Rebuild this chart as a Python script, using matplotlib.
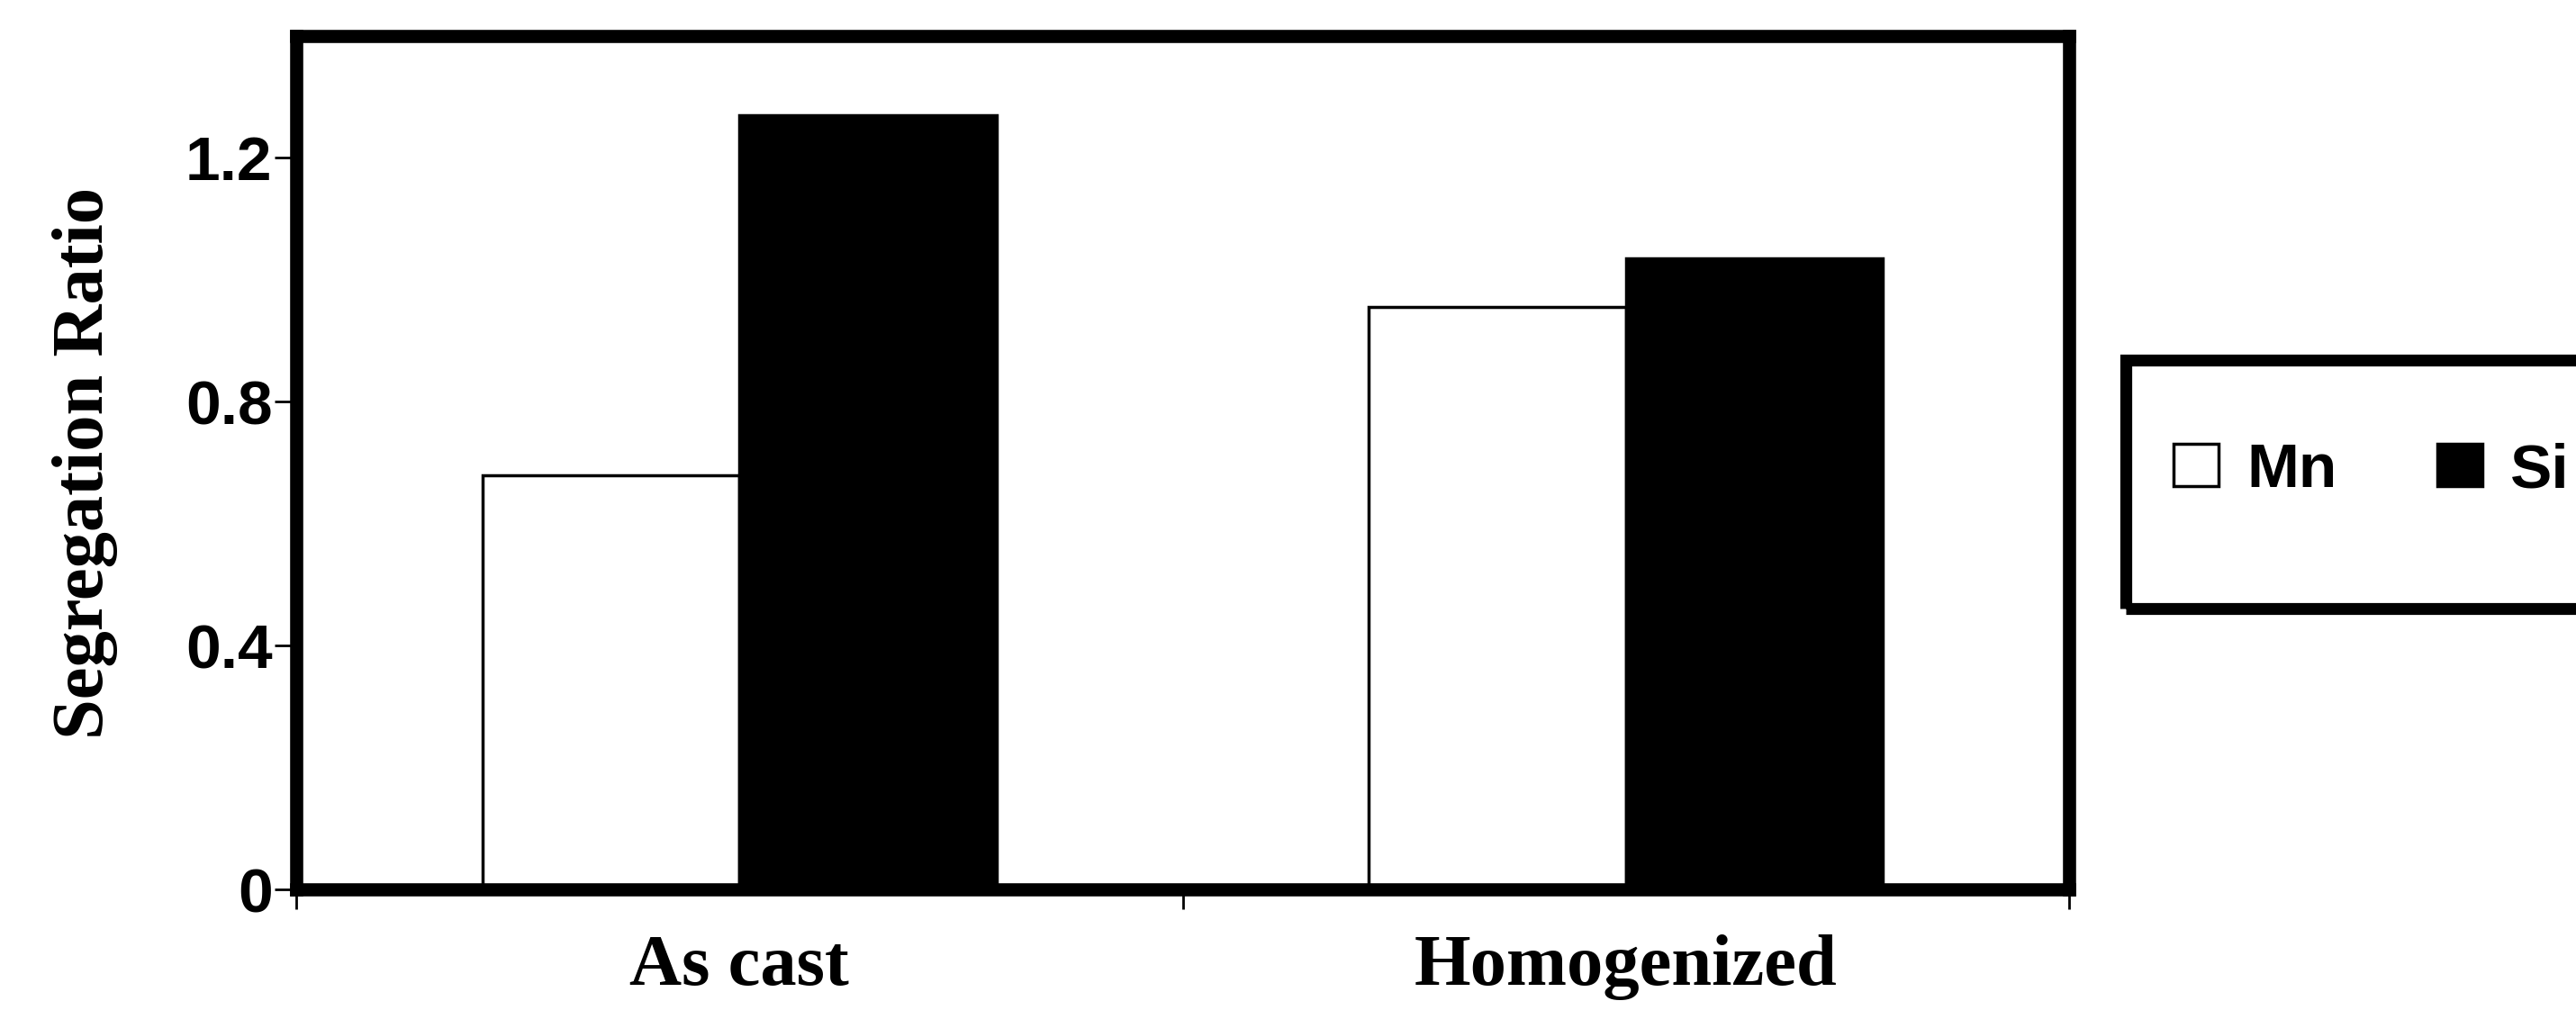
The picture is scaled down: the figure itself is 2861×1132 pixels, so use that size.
import matplotlib
matplotlib.use('Agg')
import matplotlib.pyplot as plt
import numpy as np
from matplotlib.patches import Rectangle

categories = ['As cast', 'Homogenized']
series = ['Mn', 'Si']
mn_values = [0.68, 0.955]
si_values = [1.27, 1.035]
yticks = [0, 0.4, 0.8, 1.2]
ytick_labels = ['0', '0.4', '0.8', '1.2']

W, H = 2861, 1132
fig = plt.figure(figsize=(W / 100, H / 100), dpi=100)
ax = fig.add_axes([329 / W, (H - 988) / H, (2298 - 329) / W, (988 - 40) / H])

x = np.arange(len(categories))
w = 0.29
ax.bar(x - w / 2, mn_values, w, color='white', edgecolor='black', linewidth=2.5, label=series[0], zorder=2)
ax.bar(x + w / 2, si_values, w, color='black', edgecolor='black', linewidth=2.5, label=series[1], zorder=2)

ax.set_xlim(-0.5, 1.5)
ax.set_ylim(0, 1.4)

for s in ax.spines.values():
    s.set_linewidth(10.5)
    s.set_zorder(3)

ax.set_yticks(yticks)
ax.set_yticklabels(ytick_labels, fontfamily='Liberation Sans', fontweight='bold', fontsize=50)
ax.tick_params(axis='y', direction='out', length=17, width=2, pad=2)

ax.set_xticks([-0.5, 0.5, 1.5])
ax.set_xticklabels([])
ax.tick_params(axis='x', which='major', direction='out', length=16, width=2)
ax.set_xticks(x, minor=True)
ax.set_xticklabels(categories, minor=True, fontfamily='Liberation Serif', fontweight='bold', fontsize=58)
ax.tick_params(axis='x', which='minor', length=0, pad=36)

ax.set_ylabel('Segregation Ratio', fontfamily='Liberation Serif', fontweight='bold', fontsize=58)
ax.yaxis.set_label_coords(-0.1006, 0.5)

handles, labels = ax.get_legend_handles_labels()
leg = fig.legend(handles, labels, loc='center left', bbox_to_anchor=(2414 / W, 1 - 523 / H),
                 ncol=2, frameon=False, borderpad=0, borderaxespad=0,
                 handlelength=0.72, handleheight=0.66, handletextpad=0.45, columnspacing=1.6,
                 prop={'family': 'Liberation Sans', 'weight': 'bold', 'size': 50})

frame = Rectangle((2361 / W, (H - 676) / H), 700 / W, (676 - 400) / H, transform=fig.transFigure,
                  fill=False, edgecolor='black', linewidth=9.5)
fig.add_artist(frame)

fig.savefig('out.png', dpi=100, facecolor='white')
